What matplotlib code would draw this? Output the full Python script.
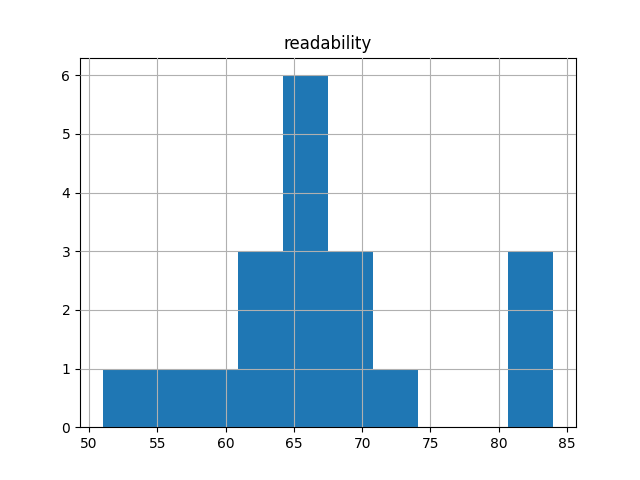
import numpy as np
import matplotlib
matplotlib.use("Agg")
import matplotlib.pyplot as plt

# histogram of readability scores, 10 bins
bin_lo = 51.0
bin_hi = 84.0
counts = [1, 1, 1, 3, 6, 3, 1, 0, 0, 3]

edges = np.linspace(bin_lo, bin_hi, len(counts) + 1)
centers = (edges[:-1] + edges[1:]) / 2

fig, ax = plt.subplots(figsize=(6.4, 4.8), dpi=100)
ax.hist(centers, bins=edges, weights=counts, color="#1f77b4")
ax.set_title("readability")
ax.grid(True)
ax.set_axisbelow(False)

fig.savefig("out.png")
